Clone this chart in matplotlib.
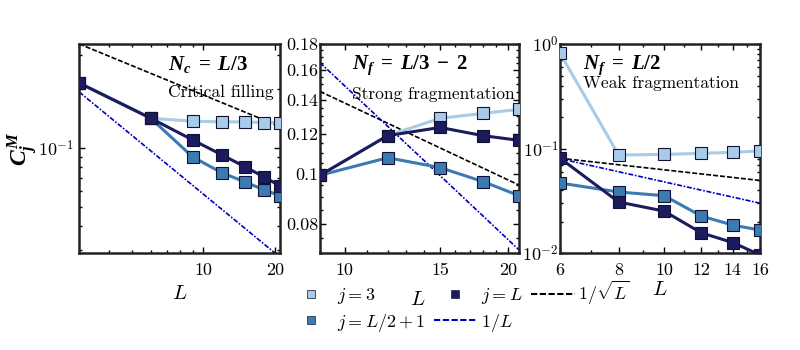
import numpy as np
import matplotlib
matplotlib.use("Agg")
import matplotlib.pyplot as plt
from matplotlib.ticker import FixedLocator, NullFormatter, FixedFormatter, LogLocator
from matplotlib.lines import Line2D

plt.rcParams['font.family'] = 'serif'
plt.rcParams['font.serif'] = ['cmr10', 'DejaVu Serif']
plt.rcParams['mathtext.fontset'] = 'cm'
plt.rcParams['mathtext.bfit'] = 'Liberation Serif:italic:bold'
plt.rcParams['mathtext.rm'] = 'Liberation Serif:bold'
plt.rcParams['mathtext.it'] = 'Liberation Serif:italic:bold'
plt.rcParams['mathtext.bf'] = 'Liberation Serif:bold'
plt.rcParams['axes.formatter.use_mathtext'] = True
plt.rcParams['axes.unicode_minus'] = False

# colours of the three j series
c_light = '#a8cbe8'
c_mid = '#3c7ab2'
c_dark = '#1b1b5e'

# panel 1: N_c = L/3, critical filling
L1 = [3, 6, 9, 12, 15, 18, 21]
j3_1 = [0.215, 0.142, 0.137, 0.136, 0.136, 0.135, 0.135]
jmid_1 = [0.215, 0.142, 0.090, 0.0745, 0.067, 0.061, 0.057]
jL_1 = [0.215, 0.142, 0.110, 0.092, 0.080, 0.071, 0.064]

# panel 2: N_f = L/3 - 2, strong fragmentation
L2 = [9, 12, 15, 18, 21]
j3_2 = [0.0995, 0.119, 0.1287, 0.1316, 0.134]
jmid_2 = [0.0995, 0.1077, 0.103, 0.0967, 0.0907]
jL_2 = [0.0995, 0.119, 0.1235, 0.119, 0.1165]

# panel 3: N_f = L/2, weak fragmentation
L3 = [6, 8, 10, 12, 14, 16]
j3_3 = [0.82, 0.0867, 0.088, 0.090, 0.092, 0.095]
jmid_3 = [0.0468, 0.0384, 0.0354, 0.0226, 0.0185, 0.0166]
jL_3 = [0.081, 0.0308, 0.0252, 0.0156, 0.0126, 0.0096]

# prefactors of the reference power laws
ref_sqrt = [0.59, 0.436, 0.198]
ref_inv = [0.58, 1.49, 0.48]

titles = [r'$N_c\;=\;L/3$', r'$N_f\;=\;L/3\;-\;2$', r'$N_f\;=\;L/2$']
subtitles = ['Critical filling', 'Strong fragmentation', 'Weak fragmentation']

fig = plt.figure(figsize=(8, 3.5), dpi=100)
lefts = [0.099, 0.400, 0.700]
widths = [0.251, 0.249, 0.250]
axs = [fig.add_axes([lefts[i], 0.277, widths[i], 0.597]) for i in range(3)]

data = [(L1, j3_1, jmid_1, jL_1), (L2, j3_2, jmid_2, jL_2), (L3, j3_3, jmid_3, jL_3)]
text_x = [0.44, 0.16, 0.115]
sub_y = [0.77, 0.76, 0.81]

for i, ax in enumerate(axs):
    L, a, b, c = data[i]
    Lf = np.geomspace(L[0], L[-1], 50)
    ax.plot(Lf, ref_sqrt[i] / np.sqrt(Lf), color='black', ls=(0, (3, 1.2)), lw=1.2, zorder=2)
    ax.plot(Lf, ref_inv[i] / Lf, color='#0000c0', ls=(0, (3, 1, 1, 1)), lw=1.2, zorder=2)
    ax.plot(L, b, color=c_mid, lw=2.2, marker='s', ms=8, mec='#111133', mew=0.8, zorder=3)
    ax.plot(L, c, color=c_dark, lw=2.2, marker='s', ms=8, mec='#111133', mew=0.8, zorder=4)
    ax.plot(L, a, color=c_light, lw=2.2, marker='s', ms=8, mec='#111133', mew=0.8, zorder=3)
    ax.set_xscale('log')
    ax.set_yscale('log')
    ax.tick_params(which='both', direction='in', top=True, right=True, labelsize=13)
    ax.tick_params(which='major', length=4, width=1)
    ax.tick_params(which='minor', length=2, width=1)
    ax.tick_params(axis='x', which='both', pad=7)
    for s in ax.spines.values():
        s.set_linewidth(1.8)
        s.set_color('#222222')
    ax.text(text_x[i], 0.90, titles[i], transform=ax.transAxes, fontsize=15, va='center',
            math_fontfamily='custom')
    ax.text(text_x[i], sub_y[i], subtitles[i], transform=ax.transAxes, fontsize=12.5, va='center')

# panel 1 axes
axs[0].set_xlim(3, 21)
axs[0].set_ylim(0.029, 0.34)
axs[0].xaxis.set_major_locator(FixedLocator([10, 20]))
axs[0].xaxis.set_major_formatter(FixedFormatter(['10', '20']))
axs[0].xaxis.set_minor_locator(LogLocator(base=10, subs=np.arange(2, 10)))
axs[0].xaxis.set_minor_formatter(NullFormatter())
axs[0].yaxis.set_major_locator(FixedLocator([0.1]))
axs[0].yaxis.set_major_formatter(FixedFormatter([r'$10^{-1}$']))
axs[0].yaxis.set_minor_locator(LogLocator(base=10, subs=np.arange(2, 10)))
axs[0].yaxis.set_minor_formatter(NullFormatter())
axs[0].set_ylabel(r'$C_j^M$', fontsize=17, math_fontfamily='custom')
axs[0].yaxis.set_label_coords(-0.195, 0.5)
axs[0].set_xlabel(r'$L$', fontsize=15)
axs[0].xaxis.set_label_coords(0.5, -0.155)

# panel 2 axes
axs[1].set_xlim(9, 21)
axs[1].set_ylim(0.07, 0.18)
axs[1].xaxis.set_major_locator(FixedLocator([10, 15, 20]))
axs[1].xaxis.set_major_formatter(FixedFormatter(['10', '15', '20']))
axs[1].xaxis.set_minor_locator(FixedLocator([9, 11, 12, 13, 14, 16, 17, 18, 19, 21]))
axs[1].xaxis.set_minor_formatter(NullFormatter())
yt2 = [0.08, 0.1, 0.12, 0.14, 0.16, 0.18]
axs[1].yaxis.set_major_locator(FixedLocator(yt2))
axs[1].yaxis.set_major_formatter(FixedFormatter(['0.08', '0.1', '0.12', '0.14', '0.16', '0.18']))
axs[1].yaxis.set_minor_locator(FixedLocator(np.arange(0.07, 0.181, 0.005)))
axs[1].yaxis.set_minor_formatter(NullFormatter())
axs[1].tick_params(axis='y', pad=1)
axs[1].set_xlabel(r'$L$', fontsize=15)
axs[1].xaxis.set_label_coords(0.49, -0.18)

# panel 3 axes
axs[2].set_xlim(6, 16)
axs[2].set_ylim(0.01, 1)
axs[2].xaxis.set_major_locator(FixedLocator([6, 8, 10, 12, 14, 16]))
axs[2].xaxis.set_major_formatter(FixedFormatter(['6', '8', '10', '12', '14', '16']))
axs[2].xaxis.set_minor_locator(FixedLocator([7, 9, 11, 13, 15]))
axs[2].xaxis.set_minor_formatter(NullFormatter())
axs[2].yaxis.set_major_locator(FixedLocator([0.01, 0.1, 1]))
axs[2].yaxis.set_major_formatter(FixedFormatter([r'$10^{-2}$', r'$10^{-1}$', r'$10^{0}$']))
axs[2].yaxis.set_minor_locator(LogLocator(base=10, subs=np.arange(2, 10)))
axs[2].yaxis.set_minor_formatter(NullFormatter())
axs[2].tick_params(axis='y', pad=1)
axs[2].set_xlabel(r'$L$', fontsize=15)
axs[2].xaxis.set_label_coords(0.5, -0.135)

# legend
handles = [
    Line2D([], [], ls='none', marker='s', ms=6, color=c_light, mec='#333344', mew=0.6),
    Line2D([], [], ls='none', marker='s', ms=6, color=c_mid, mec='#333344', mew=0.6),
    Line2D([], [], ls='none', marker='s', ms=6, color=c_dark, mec='#333344', mew=0.6),
    Line2D([], [], color='#0000c0', ls=(0, (3, 1.2)), lw=1.5),
    Line2D([], [], color='black', ls=(0, (3, 1.2)), lw=1.5),
]
labels = [r'$j = 3$', r'$j = L/2+1$', r'$j = L$', r'$1/L$', r'$1/\sqrt{L}$']
fig.legend(handles, labels, ncol=3, loc='lower center', bbox_to_anchor=(0.575, 0.0),
           frameon=False, fontsize=13, handlelength=2.4, columnspacing=0.5,
           handletextpad=0.2, labelspacing=0.3)

fig.savefig('out.png', dpi=100)
